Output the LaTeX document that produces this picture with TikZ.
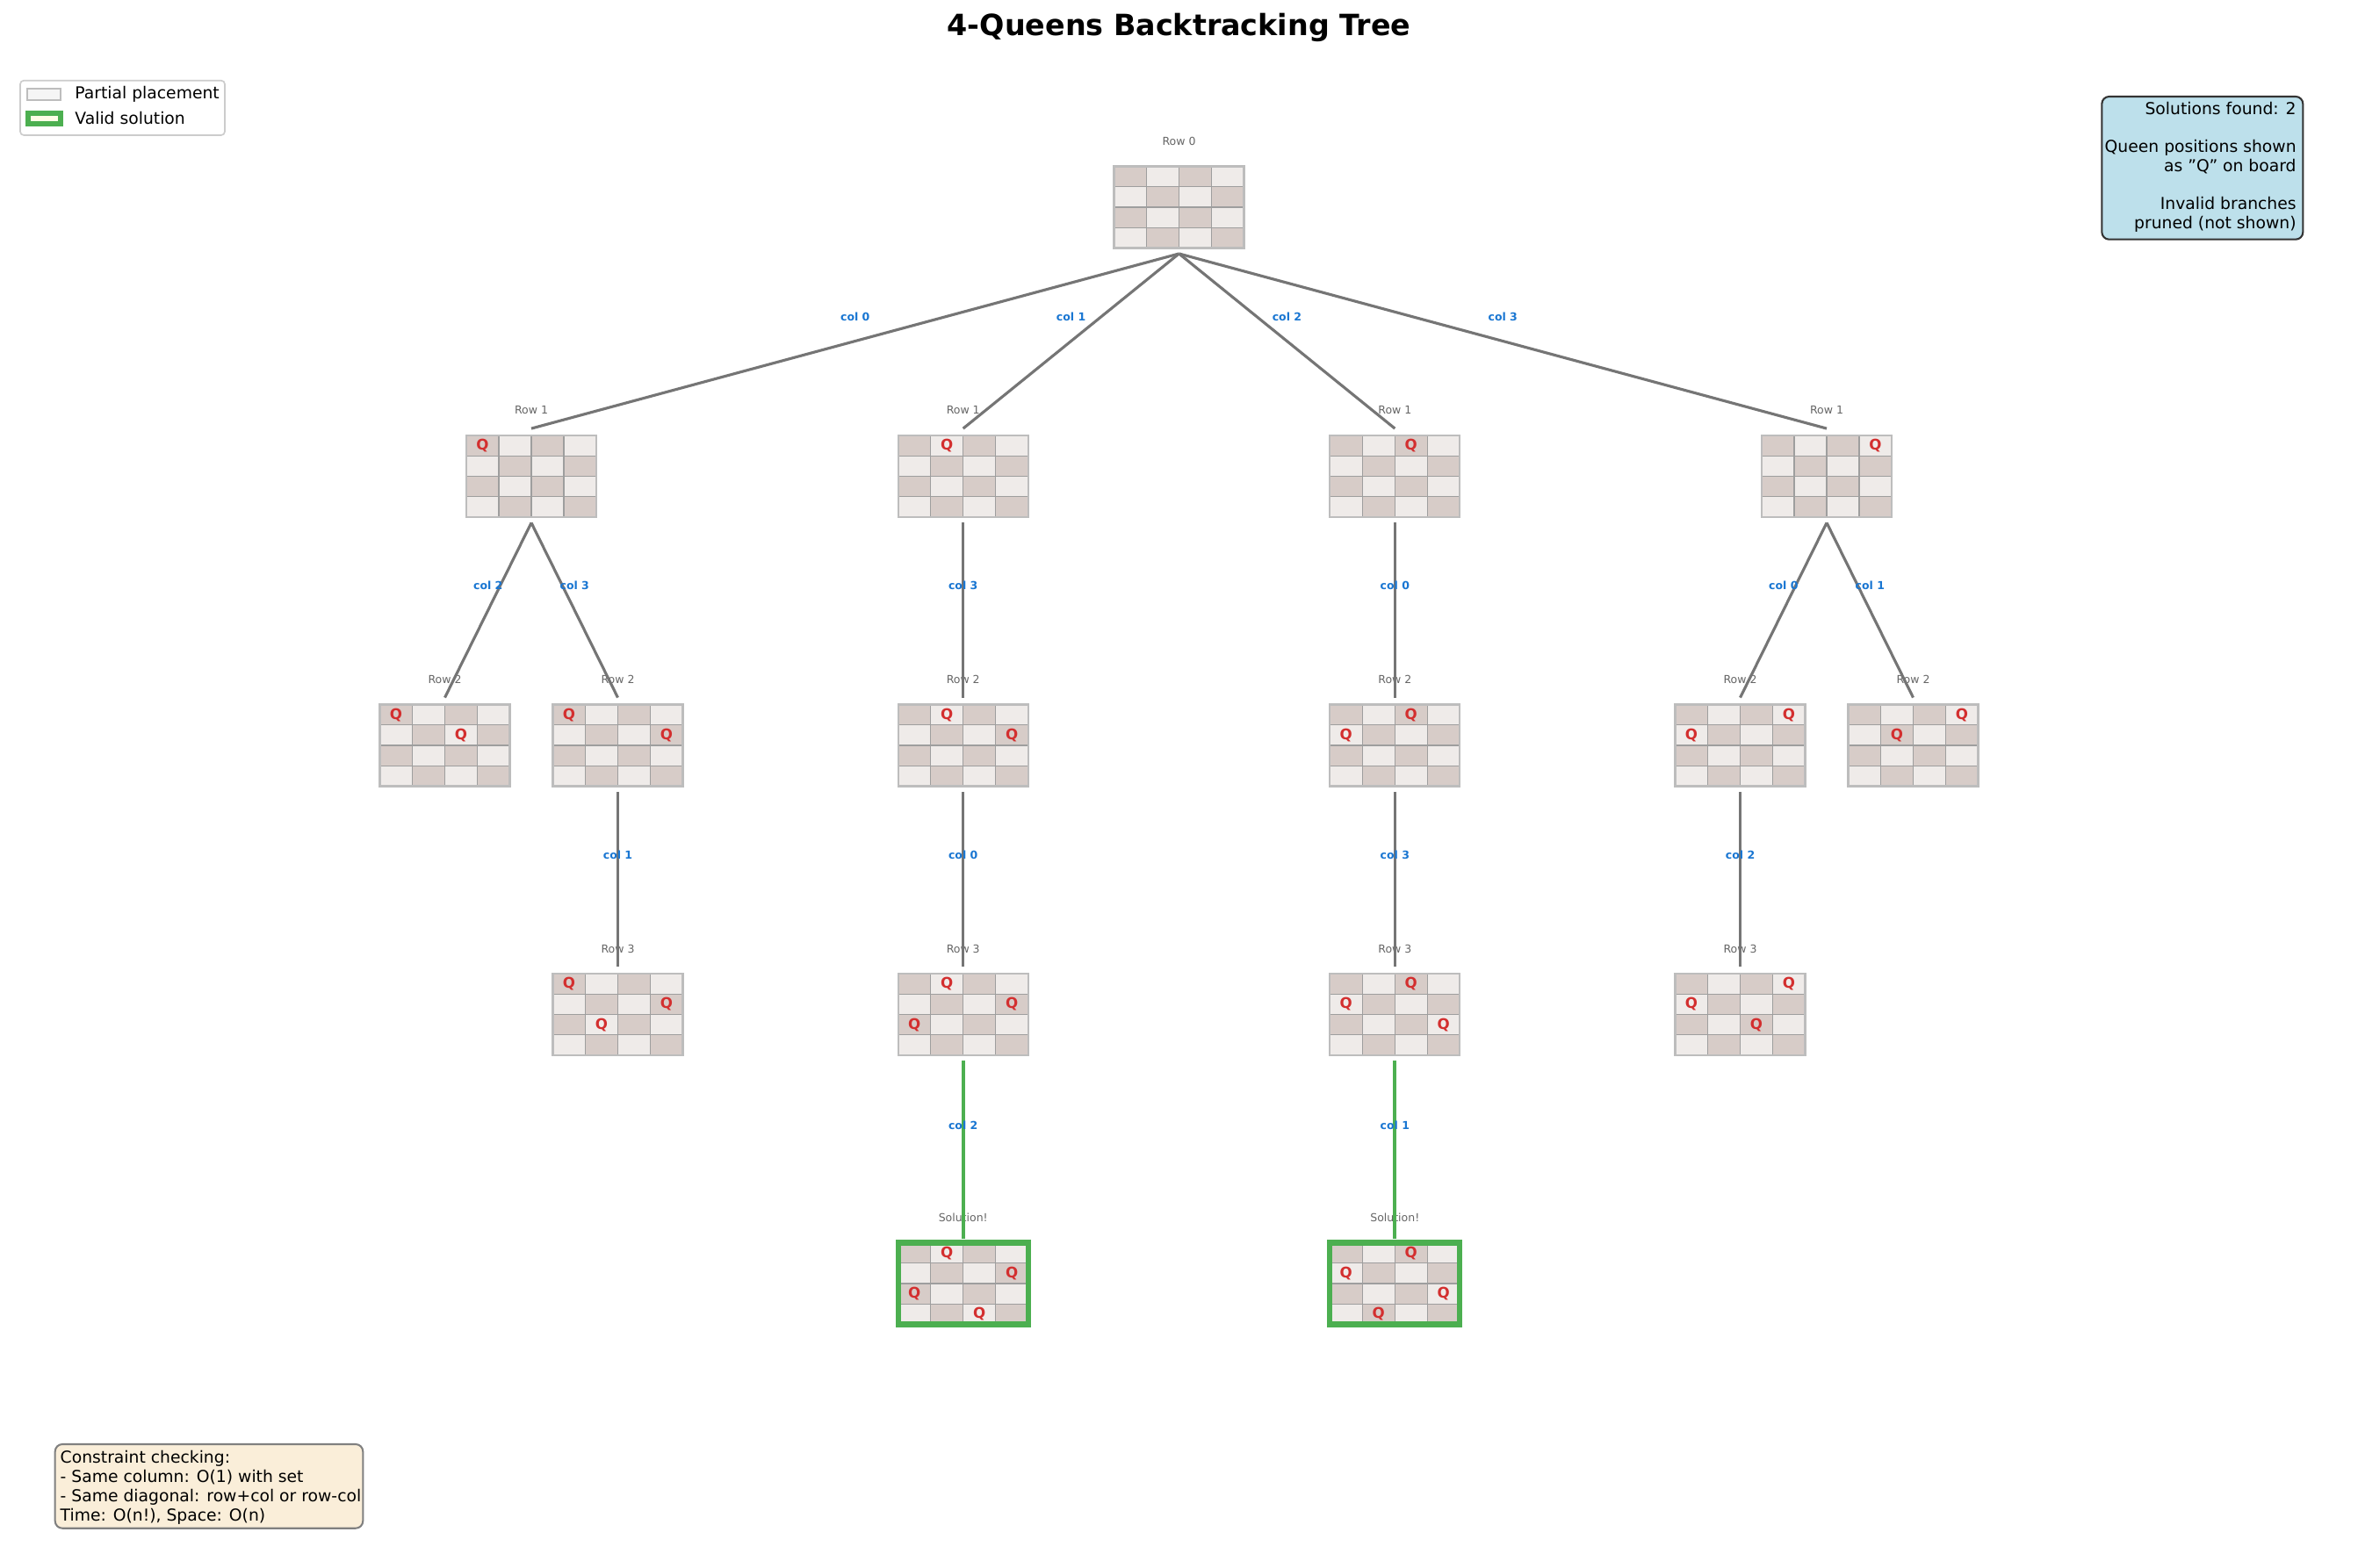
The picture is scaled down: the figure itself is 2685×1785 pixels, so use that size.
\documentclass[tikz,border=0pt]{standalone}
\usepackage{fontspec}
\setmainfont{DejaVu Sans}
\definecolor{darkc}{HTML}{D7CCC8}
\definecolor{lightc}{HTML}{EFEBE9}
\definecolor{gridc}{HTML}{9E9E9E}
\definecolor{borderc}{HTML}{BDBDBD}
\definecolor{queenc}{HTML}{D32F2F}
\definecolor{edgec}{HTML}{757575}
\definecolor{solc}{HTML}{4CAF50}
\definecolor{labc}{HTML}{1976D2}
\definecolor{rowc}{HTML}{666666}
\definecolor{infoc}{HTML}{BDE0EB}
\definecolor{notec}{HTML}{FAEED9}
\definecolor{legc}{HTML}{CCCCCC}
\definecolor{legsolfill}{HTML}{FFFDE7}
\definecolor{partfill}{HTML}{F5F5F5}
\tikzset{
 boardnode/.style={draw=borderc, line width=1pt, minimum width=71.04pt, minimum height=44.64pt, inner sep=0pt},
 solnode/.style={boardnode, draw=solc, line width=3pt},
 gridln/.style={draw=gridc, line width=0.6pt},
 queen/.style={text=queenc, font=\fontsize{8}{9.6}\selectfont\bfseries, inner sep=0pt},
 rowlabel/.style={text=rowc, font=\fontsize{6}{7.2}\selectfont, inner sep=0pt},
 edgeg/.style={draw=edgec, line width=1.5pt},
 edgesol/.style={draw=solc, line width=2pt},
 collabel/.style={midway, yshift=13.4pt, text=labc, font=\fontsize{6}{7.2}\selectfont\bfseries, inner sep=0pt},
 txt/.style={font=\fontsize{9}{10.5}\selectfont, inner sep=0pt},
}
\newcommand{\qboard}[5]{%
  \begin{scope}[shift={(#2-74,#3-46.5)}]
    \fill[lightc] (0,0) rectangle (148,93);
    \foreach \r/\c in {0/0,0/2,1/1,1/3,2/0,2/2,3/1,3/3}
      \fill[darkc] (37*\c,23.25*\r) rectangle +(37,23.25);
    \foreach \k in {1,2,3} {
      \draw[gridln] (37*\k,0) -- (37*\k,93);
      \draw[gridln] (0,23.25*\k) -- (148,23.25*\k);
    }
  \end{scope}
  \node[#5] (#1) at (#2,#3) {};
  \node[rowlabel] (#1lab) at (#2,#3-75) {#4};
}
\newcommand{\qput}[4]{%
  \foreach \r/\c [count=\i] in {#4}
    \node[queen] (#1q\i) at (#2-74+37*\c+18.5, #3-46.5+23.25*\r+11.625) {Q};
}
\begin{document}
\begin{tikzpicture}[x=0.48pt,y=-0.48pt]
\useasboundingbox (0,0) rectangle (2685,1785);
\fill[white] (0,0) rectangle (2685,1785);

% title
\node[font=\fontsize{16}{19}\selectfont\bfseries, inner sep=0pt] (title) at (1342.5,31) {4-Queens Backtracking Tree};

% boards
\qboard{root}{1342.5}{236}{Row 0}{boardnode}
\qboard{ra}{605}{542.5}{Row 1}{boardnode}
\qput{ra}{605}{542.5}{0/0}
\qboard{rb}{1096.7}{542.5}{Row 1}{boardnode}
\qput{rb}{1096.7}{542.5}{0/1}
\qboard{rc}{1588.3}{542.5}{Row 1}{boardnode}
\qput{rc}{1588.3}{542.5}{0/2}
\qboard{rd}{2080}{542.5}{Row 1}{boardnode}
\qput{rd}{2080}{542.5}{0/3}

\qboard{sa}{506.5}{849}{Row 2}{boardnode}
\qput{sa}{506.5}{849}{0/0,1/2}
\qboard{sb}{703.5}{849}{Row 2}{boardnode}
\qput{sb}{703.5}{849}{0/0,1/3}
\qboard{sc}{1096.7}{849}{Row 2}{boardnode}
\qput{sc}{1096.7}{849}{0/1,1/3}
\qboard{sd}{1588.3}{849}{Row 2}{boardnode}
\qput{sd}{1588.3}{849}{0/2,1/0}
\qboard{se}{1981.5}{849}{Row 2}{boardnode}
\qput{se}{1981.5}{849}{0/3,1/0}
\qboard{sf}{2178.5}{849}{Row 2}{boardnode}
\qput{sf}{2178.5}{849}{0/3,1/1}

\qboard{ta}{703.5}{1155.5}{Row 3}{boardnode}
\qput{ta}{703.5}{1155.5}{0/0,1/3,2/1}
\qboard{tb}{1096.7}{1155.5}{Row 3}{boardnode}
\qput{tb}{1096.7}{1155.5}{0/1,1/3,2/0}
\qboard{tc}{1588.3}{1155.5}{Row 3}{boardnode}
\qput{tc}{1588.3}{1155.5}{0/2,1/0,2/3}
\qboard{td}{1981.5}{1155.5}{Row 3}{boardnode}
\qput{td}{1981.5}{1155.5}{0/3,1/0,2/2}

\qboard{ua}{1096.7}{1462}{Solution!}{solnode}
\qput{ua}{1096.7}{1462}{0/1,1/3,2/0,3/2}
\qboard{ub}{1588.3}{1462}{Solution!}{solnode}
\qput{ub}{1588.3}{1462}{0/2,1/0,2/3,3/1}

% edges
\draw[edgeg] ([yshift=-2.6pt]root.south) -- ([yshift=3.3pt]ra.north) node[collabel] {col 0};
\draw[edgeg] ([yshift=-2.6pt]root.south) -- ([yshift=3.3pt]rb.north) node[collabel] {col 1};
\draw[edgeg] ([yshift=-2.6pt]root.south) -- ([yshift=3.3pt]rc.north) node[collabel] {col 2};
\draw[edgeg] ([yshift=-2.6pt]root.south) -- ([yshift=3.3pt]rd.north) node[collabel] {col 3};

\draw[edgeg] ([yshift=-2.6pt]ra.south) -- ([yshift=3.3pt]sa.north) node[collabel] {col 2};
\draw[edgeg] ([yshift=-2.6pt]ra.south) -- ([yshift=3.3pt]sb.north) node[collabel] {col 3};
\draw[edgeg] ([yshift=-2.6pt]rb.south) -- ([yshift=3.3pt]sc.north) node[collabel] {col 3};
\draw[edgeg] ([yshift=-2.6pt]rc.south) -- ([yshift=3.3pt]sd.north) node[collabel] {col 0};
\draw[edgeg] ([yshift=-2.6pt]rd.south) -- ([yshift=3.3pt]se.north) node[collabel] {col 0};
\draw[edgeg] ([yshift=-2.6pt]rd.south) -- ([yshift=3.3pt]sf.north) node[collabel] {col 1};

\draw[edgeg] ([yshift=-2.6pt]sb.south) -- ([yshift=3.3pt]ta.north) node[collabel] {col 1};
\draw[edgeg] ([yshift=-2.6pt]sc.south) -- ([yshift=3.3pt]tb.north) node[collabel] {col 0};
\draw[edgeg] ([yshift=-2.6pt]sd.south) -- ([yshift=3.3pt]tc.north) node[collabel] {col 3};
\draw[edgeg] ([yshift=-2.6pt]se.south) -- ([yshift=3.3pt]td.north) node[collabel] {col 2};

\draw[edgesol] ([yshift=-2.6pt]tb.south) -- ([yshift=0.9pt]ua.north) node[collabel] {col 2};
\draw[edgesol] ([yshift=-2.6pt]tc.south) -- ([yshift=0.9pt]ub.north) node[collabel] {col 1};

% legend
\draw[draw=legc, fill=white, line width=0.8pt, rounded corners=2pt] (23,91.7) rectangle (256,154);
\draw[draw=borderc, fill=partfill, line width=0.8pt] (31,100.7) rectangle (69.3,114.3);
\draw[draw=solc, fill=legsolfill, line width=3pt] (32,129) rectangle (68.7,141.3);
\node[txt, anchor=west] (leg1) at (85,107.5) {Partial placement};
\node[txt, anchor=west] (leg2) at (85,135) {Valid solution};

% info box
\draw[draw=black!80, fill=infoc, line width=1pt, rounded corners=4pt] (2393.3,110) rectangle (2622.3,272.7);
\node[txt, anchor=east, align=right, font=\fontsize{9}{10.4}\selectfont] (info) at (2615,190)
 {Solutions found: 2\\\mbox{}\\Queen positions shown\\as \symbol{34}Q\symbol{34} on board\\\mbox{}\\Invalid branches\\pruned (not shown)};

% constraint box
\draw[draw=black!50, fill=notec, line width=1pt, rounded corners=4pt] (62.7,1645) rectangle (413.3,1740.7);
\node[txt, anchor=west, align=left, font=\fontsize{9}{10.56}\selectfont] (note) at (68.3,1694.7)
 {Constraint checking:\\- Same column: O(1) with set\\- Same diagonal: row+col or row-col\\Time: O(n!), Space: O(n)};
\end{tikzpicture}
\end{document}
